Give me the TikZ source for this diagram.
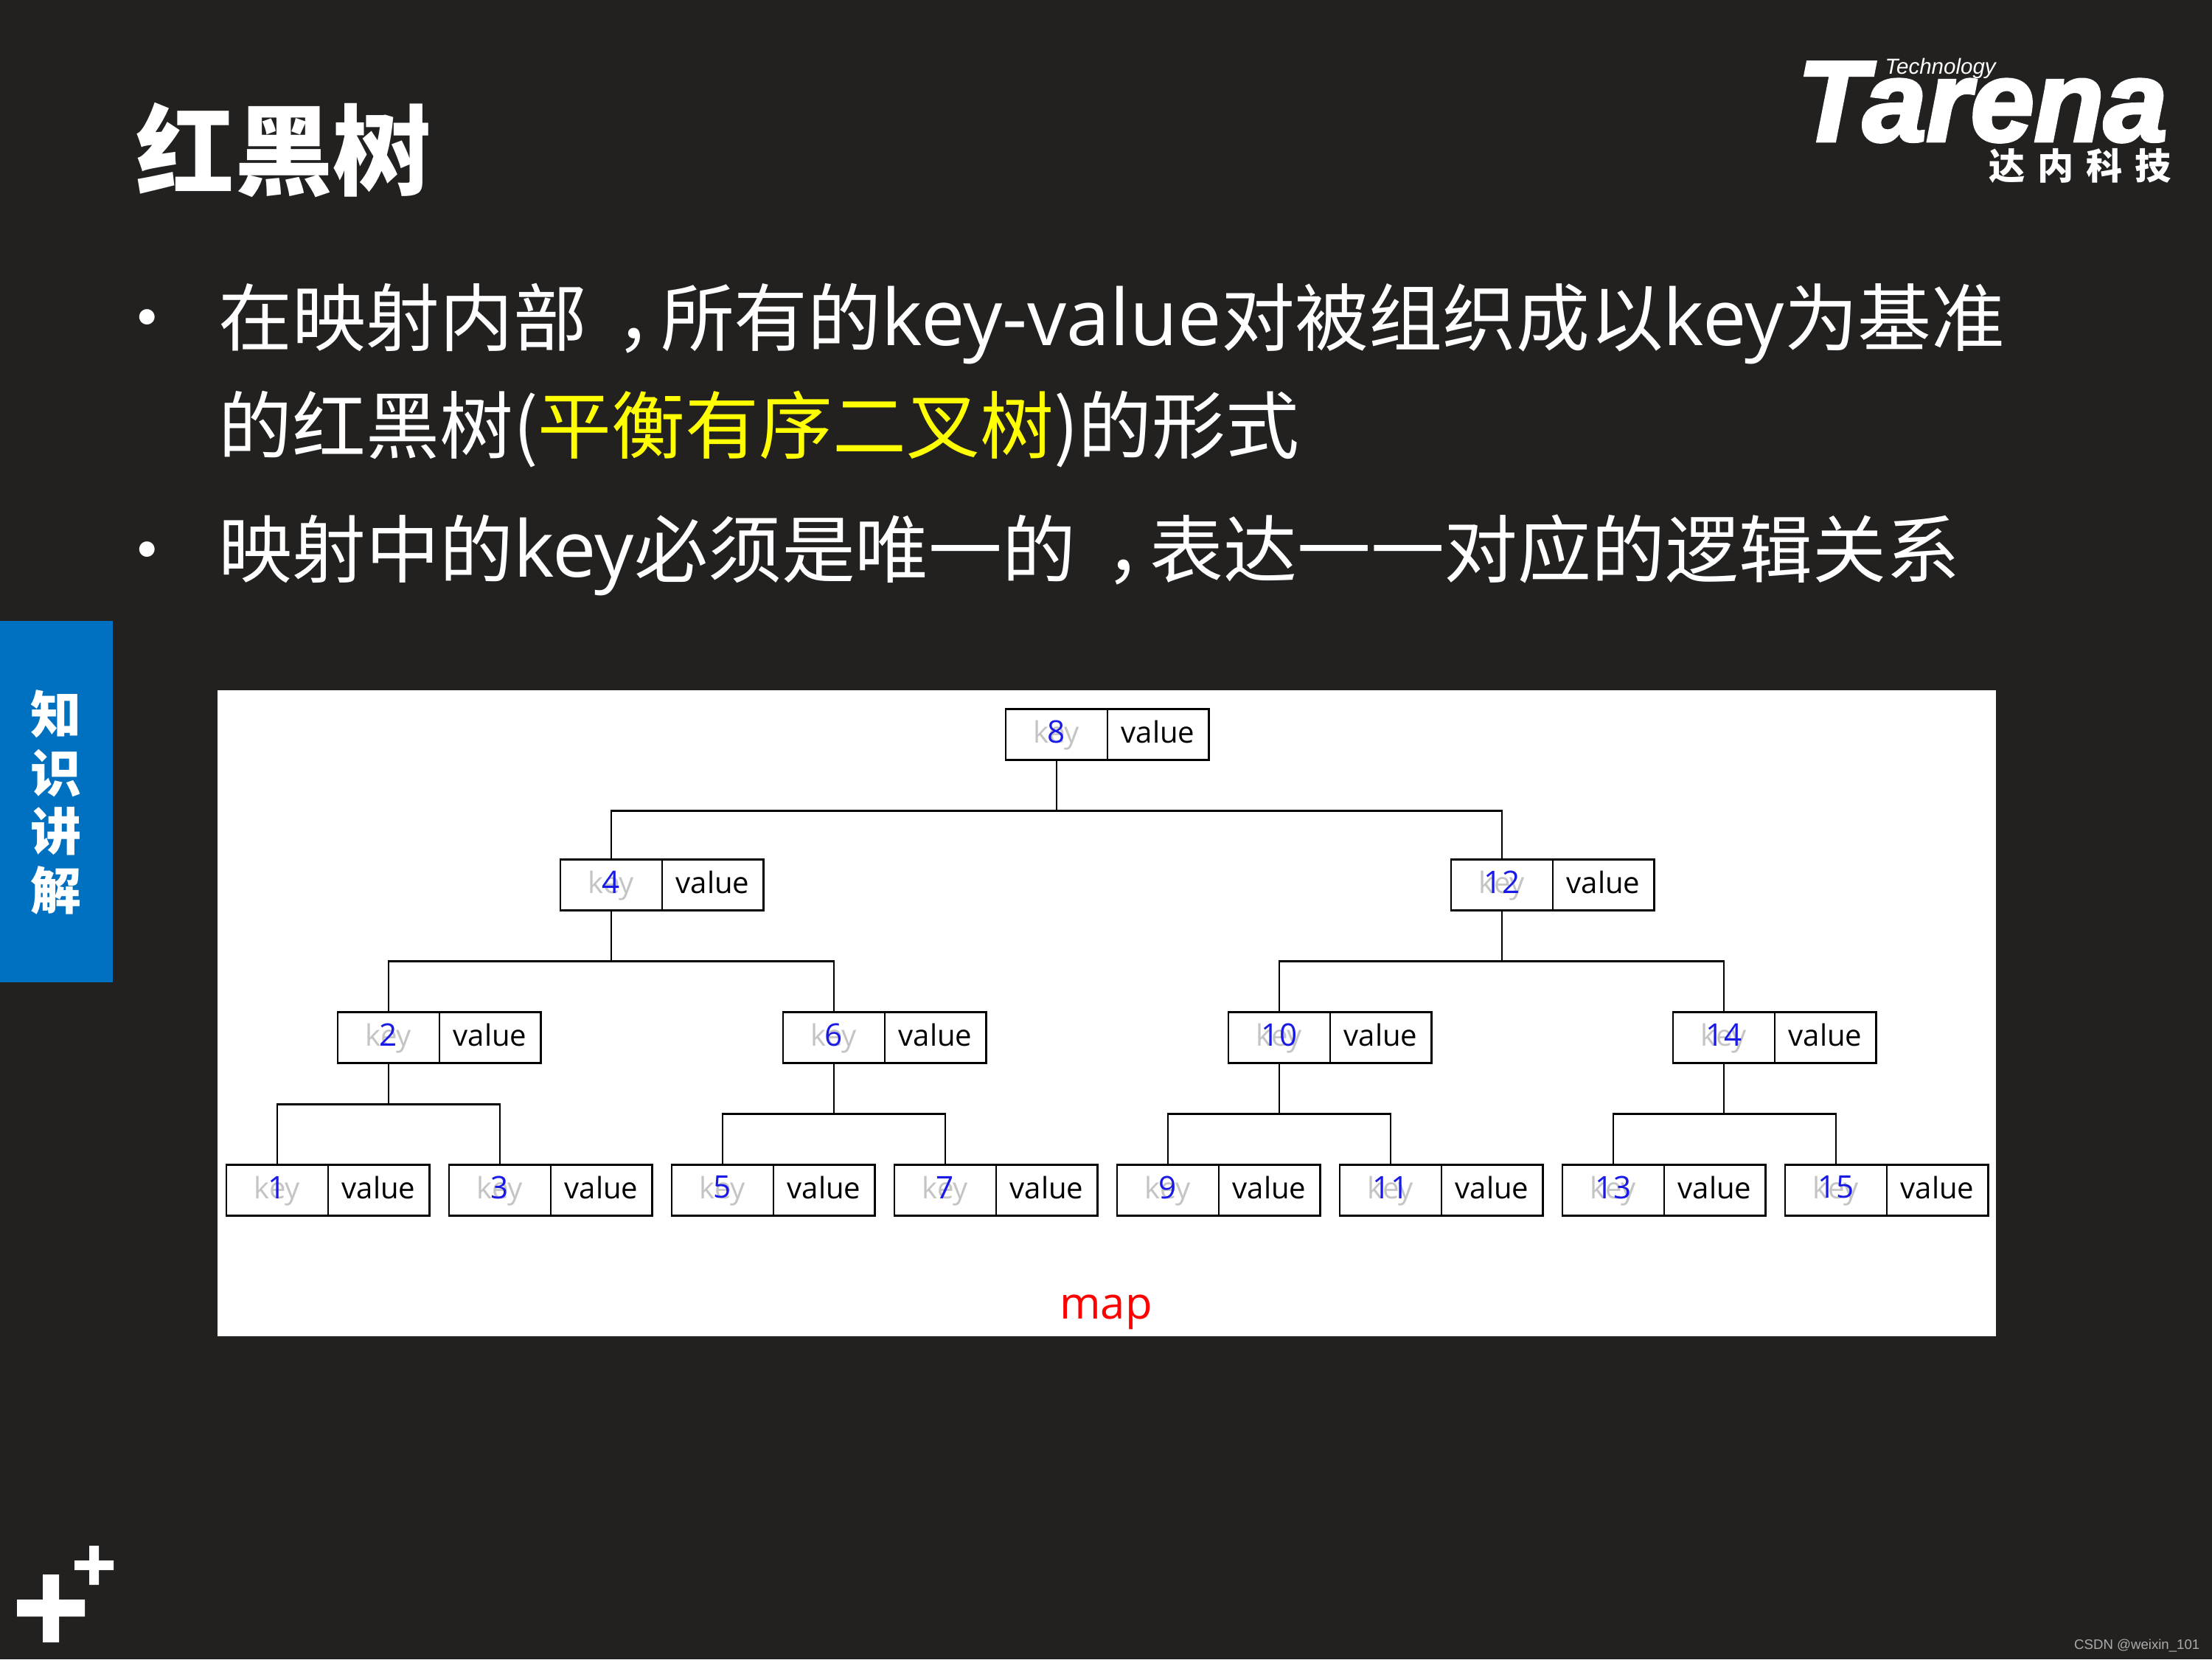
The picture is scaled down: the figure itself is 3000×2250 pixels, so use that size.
\documentclass[tikz,border=0pt]{standalone}
\usepackage{fontspec}
\setmainfont{Noto Sans CJK SC}
\newfontfamily\labelfont{Open Sans}
\newfontfamily\latinfont[Scale=1.06]{Open Sans}
\newfontfamily\logofont{Liberation Sans}
\newfontfamily\logoheavy[BoldItalicFeatures={FakeBold=3}]{Liberation Sans}
\newcommand{\midcomma}{\hspace{.4em}，\hspace{-.4em}}
\usetikzlibrary{positioning}
\definecolor{slide}{HTML}{222120}
\definecolor{tabblue}{HTML}{0070C0}
\definecolor{keygray}{HTML}{C4C4C4}
\definecolor{digitblue}{HTML}{1A1AE6}
\definecolor{markyellow}{HTML}{FFFF00}
\definecolor{markgray}{HTML}{ABABAB}
\tikzset{
  titletext/.style={anchor=base west,inner sep=0pt,text=white,font=\fontsize{38}{38}\selectfont\bfseries},
  linetext/.style={anchor=base west,inner sep=0pt,text=white,font=\fontsize{28.4}{28.4}\selectfont},
  kvcell/.style={draw=black,line width=0.7pt,fill=white,minimum width=1.375cm,minimum height=0.69cm,text height=3mm,text depth=0.7mm,inner sep=0pt,outer sep=0pt,font=\labelfont\fontsize{11.4}{11.4}\selectfont},
  keycell/.style={kvcell,text=keygray},
  valcell/.style={kvcell,text=black},
  digit/.style={text=digitblue,inner sep=0pt,yshift=0.04cm,font=\labelfont\fontsize{12}{12}\selectfont},
  treeline/.style={draw=black,line width=0.7pt},
}
\begin{document}
\begin{tikzpicture}[x=0.01cm,y=-0.01cm]
\useasboundingbox (0,0) rectangle (3000,2250);
\fill[slide] (0,0) rectangle (3000,2250);
\node[titletext] (title) at (184,254) {红黑树};
% logo
\node[anchor=base west,inner sep=0pt,text=white,font=\logoheavy\fontsize{44}{44}\selectfont\bfseries\itshape] (logo) at (2437,191) {Tarena};
\node[anchor=base west,inner sep=0pt,text=white,font=\logofont\fontsize{8.4}{8.4}\selectfont\itshape] (tech) at (2556,100) {Technology};
\node[anchor=base east,inner sep=0pt,text=white,font=\fontsize{14}{14}\selectfont\bfseries] (cn) at (2945,243) {达\hspace{4.7pt}内\hspace{4.7pt}科\hspace{4.7pt}技};
% bullets and lines
\node[text=white,inner sep=0pt,font=\fontsize{28}{28}\selectfont] (dot1) at (200,444) {•};
\node[text=white,inner sep=0pt,font=\fontsize{28}{28}\selectfont] (dot2) at (200,759) {•};
\node[linetext] (line1) at (296,468) {在映射内部\midcomma 所有的{\latinfont key-value}对被组织成以{\latinfont key}为基准};
\node[linetext] (line2) at (296,614) {的红黑树(\textcolor{markyellow}{平衡有序二叉树})的形式};
\node[linetext] (line3) at (296,782) {映射中的{\latinfont key}必须是唯一的\midcomma 表达一一对应的逻辑关系};
% side tab
\fill[tabblue] (0,842) rectangle (153,1332);
\node[text=white,align=center,inner sep=0pt,font=\fontsize{19.6}{22.6}\selectfont\bfseries] (tab) at (76,1088) {知\\识\\讲\\解};
% plus marks
\fill[white] (23,2169) rectangle (115,2192) (58,2135) rectangle (80,2227);
\fill[white] (101,2116) rectangle (154,2129) (121,2096) rectangle (134,2149);
% panel
\fill[white] (295,936) rectangle (2707,1812);
\foreach \n/\x/\y in {8/1433/996,4/829/1200,12/2037/1200,2/527/1407,6/1131/1407,10/1735/1407,14/2338/1407,1/376/1614,3/678/1614,5/980/1614,7/1282/1614,9/1584/1614,11/1886/1614,13/2188/1614,15/2490/1614}{
  \node[keycell,label={[digit]center:\n}] (k\n) at (\x,\y) {key};
  \node[valcell,right=0pt of k\n] (v\n) {value};
}
\foreach \p/\c/\d in {8/4/69,8/12/69,4/2/69,4/6/69,12/10/69,12/14/69,2/1/56,2/3/56,6/5/69,6/7/69,10/9/69,10/11/69,14/13/69,14/15/69}{
  \draw[treeline] (k\p.south) -- ++(0,\d) -| (k\c.north);
}
\node[text=red,inner sep=0pt,font=\labelfont\fontsize{17}{17}\selectfont] (map) at (1500,1779) {map};
\node[anchor=base east,inner sep=0pt,text=markgray,font=\logofont\fontsize{5.3}{5.3}\selectfont] (mark) at (2984,2236) {CSDN @weixin\_101};
\end{tikzpicture}
\end{document}
